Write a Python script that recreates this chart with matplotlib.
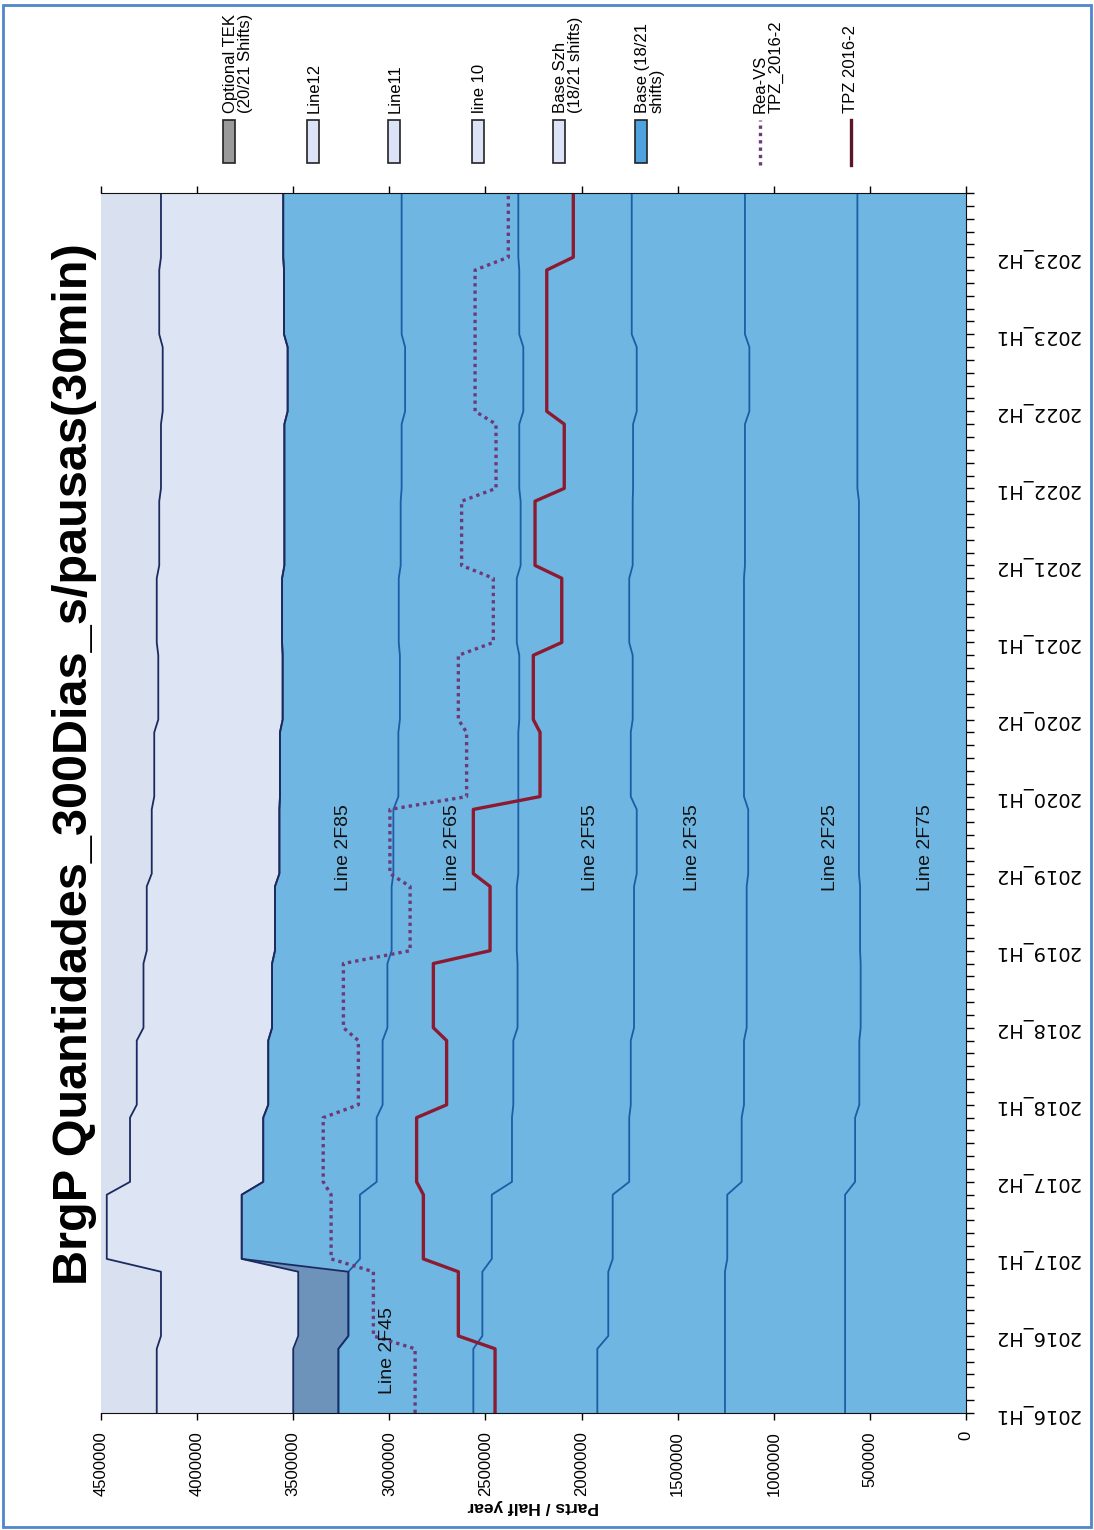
import numpy as np
import matplotlib.pyplot as plt
from matplotlib.patches import Rectangle
from matplotlib.lines import Line2D

periods = ["2016_H1", "2016_H2", "2017_H1", "2017_H2", "2018_H1", "2018_H2",
           "2019_H1", "2019_H2", "2020_H1", "2020_H2", "2021_H1", "2021_H2",
           "2022_H1", "2022_H2", "2023_H1", "2023_H2"]

# parts per half year for each production line, stacked bottom -> top
line_2f75 = [629000, 629000, 629000, 577000, 555000, 548000, 551000, 557000,
             557000, 557000, 557000, 557000, 565000, 565000, 565000, 565000]
line_2f25 = [625000, 625000, 613000, 590000, 600000, 593000, 590000, 576000,
             598000, 598000, 598000, 593000, 585000, 562000, 585000, 585000]
line_2f35 = [664000, 607000, 596000, 585000, 589000, 586000, 586000, 580000,
             589000, 579000, 597000, 584000, 582000, 586000, 589000, 589000]
line_2f55 = [645000, 655000, 629000, 610000, 611000, 606000, 610000, 616000,
             585000, 590000, 585000, 583000, 592000, 590000, 585000, 590000]
line_2f65 = [702000, 697000, 686000, 704000, 680000, 677000, 651000, 650000,
             624000, 621000, 614000, 624000, 612000, 615000, 612000, 607000]
line_2f85 = [0, 0, 615000, 590000, 595000, 600000, 607000, 593000,
             616000, 610000, 607000, 605000, 610000, 611000, 612000, 616000]
optional_tek = [235000, 261000, 0, 0, 0, 0, 0, 0, 0, 0, 0, 0, 0, 0, 0, 0]
base_szh = [710000, 714000, 702000, 693000, 684000, 669000, 667000, 664000,
            654000, 647000, 652000, 651000, 642000, 650000, 649000, 636000]

rea_vs_tpz = [2866000, 3083000, 3303000, 3344000, 3161000, 3239000, 2892000, 2997000,
              2598000, 2641000, 2459000, 2624000, 2445000, 2554000, 2554000, 2381000]
tpz_2016 = [2450000, 2641000, 2823000, 2858000, 2702000, 2771000, 2476000, 2563000,
            2216000, 2251000, 2103000, 2242000, 2090000, 2181000, 2181000, 2043000]

value_ticks = [0, 500000, 1000000, 1500000, 2000000, 2500000, 3000000, 3500000, 4000000, 4500000]

# monthly resolution: each half year value holds for 6 months
months = np.arange(len(periods) * 6)
def monthly(v):
    return np.repeat(np.array(v, dtype=float), 6)

bands = [line_2f75, line_2f25, line_2f35, line_2f55, line_2f65, line_2f85]
tops = np.cumsum([monthly(b) for b in bands], axis=0)
base_top = tops[-1]
tek_top = base_top + monthly(optional_tek)
szh_top = tek_top + monthly(base_szh)

arial = ["Liberation Sans", "DejaVu Sans"]

mid_blue = "#6fb6e2"
light = "#dde5f4"
navy = "#1c2a60"
edge_blue = "#1a5ea6"

fig = plt.figure(figsize=(10.94, 15.30), dpi=100)
W, H = 1094, 1530
ax = fig.add_axes([101 / W, (H - 1413) / H, (966 - 101) / W, (1413 - 193) / H])
ax.set_facecolor("#d9e1f0")

ax.fill_betweenx(months, 0, base_top, color=mid_blue, lw=0)
ax.fill_betweenx(months, base_top, tek_top, color="#6d93bb", lw=0)
ax.fill_betweenx(months, tek_top, szh_top, color=light, lw=0)

for b in tops[:-1]:
    ax.plot(b, months, color=edge_blue, lw=1.3)
ax.plot(base_top, months, color=navy, lw=1.3)
ax.plot(tek_top, months, color=navy, lw=1.3)
ax.plot(szh_top, months, color=navy, lw=1.3)

ax.plot(monthly(rea_vs_tpz), months, color="#6b3a78", lw=2.4, ls=(0, (1, 1.2)))
ax.plot(monthly(tpz_2016), months, color="#8c1a30", lw=2.4)

# band captions
captions = [("Line 2F85", 3241000, 44), ("Line 2F65", 2669000, 44),
            ("Line 2F55", 1956000, 44), ("Line 2F35", 1425000, 44),
            ("Line 2F25", 707000, 44), ("Line 2F75", 213000, 44),
            ("Line 2F45", 3007000, 4.9)]
for txt, xv, yv in captions:
    ax.text(xv, yv, txt, rotation=90, ha="center", va="center",
            fontsize=14, family=arial, color="#111111")

ax.set_xlim(4500000, 0)
ax.set_ylim(0, months[-1])
ax.set_xticks(value_ticks)
ax.set_xticklabels([str(v) for v in value_ticks], rotation=90, family=arial, fontsize=12)
ax.tick_params(axis="x", top=True, direction="out", length=5, width=1, pad=8)
ax.yaxis.tick_right()
ax.set_yticks(np.arange(0, len(months), 6))
ax.set_yticks(months, minor=True)
ax.set_yticklabels(periods, rotation=180, family="DejaVu Sans", fontsize=14,
                   va="center", ha="left")
ax.tick_params(axis="y", which="both", direction="out", length=6, width=1, pad=14)
ax.set_xlabel("Parts / Half year", rotation=180, fontsize=12.5, fontweight="bold",
              family=arial, labelpad=2)
ax.spines["left"].set_visible(False)
for s in ["top", "bottom", "right"]:
    ax.spines[s].set_color("#111111")

fig.text(75 / W, 1 - 764 / H, "BrgP Quantidades_300Dias_s/pausas(30min)",
         rotation=90, ha="center", va="center", fontsize=35, fontweight="bold",
         family=arial)

# legend drawn along the top edge
legend_patches = [(223, "#9a9a9a", "Optional TEK\n(20/21 Shifts)"),
                  (307, "#dde3f7", "Line12"),
                  (388, "#dde3f7", "Line11"),
                  (472, "#dde3f7", "line 10"),
                  (553, "#dde3f7", "Base Szh\n(18/21 shifts)"),
                  (635, "#4ea2de", "Base (18/21\nshifts)")]
for x0, col, txt in legend_patches:
    fig.patches.append(Rectangle((x0 / W, 1 - 163 / H), 12 / W, 43 / H,
                                 transform=fig.transFigure, facecolor=col,
                                 edgecolor="#222222", lw=1.2))
    fig.text(x0 / W, 1 - 113 / H, txt, rotation=90, rotation_mode="anchor",
             ha="left", va="top", fontsize=12, family=arial, linespacing=1.0)

legend_lines = [(760, "#6b3a78", (0, (1, 1.2)), "Rea-VS\nTPZ_2016-2", 753),
                (851, "#5a1626", "-", "TPZ 2016-2", 843)]
for xl, col, ls, txt, xt in legend_lines:
    fig.lines.append(Line2D([xl / W, xl / W], [1 - 165 / H, 1 - 120 / H],
                            transform=fig.transFigure, color=col, lw=2.4, ls=ls))
    fig.text(xt / W, 1 - 113 / H, txt, rotation=90, rotation_mode="anchor",
             ha="left", va="top", fontsize=12, family=arial, linespacing=1.0)

fig.patches.append(Rectangle((3 / W, 3 / H), 1088 / W, 1522 / H,
                             transform=fig.transFigure, fill=False,
                             edgecolor="#4f86cc", lw=2))

fig.savefig("out.png", dpi=100, facecolor="white")
